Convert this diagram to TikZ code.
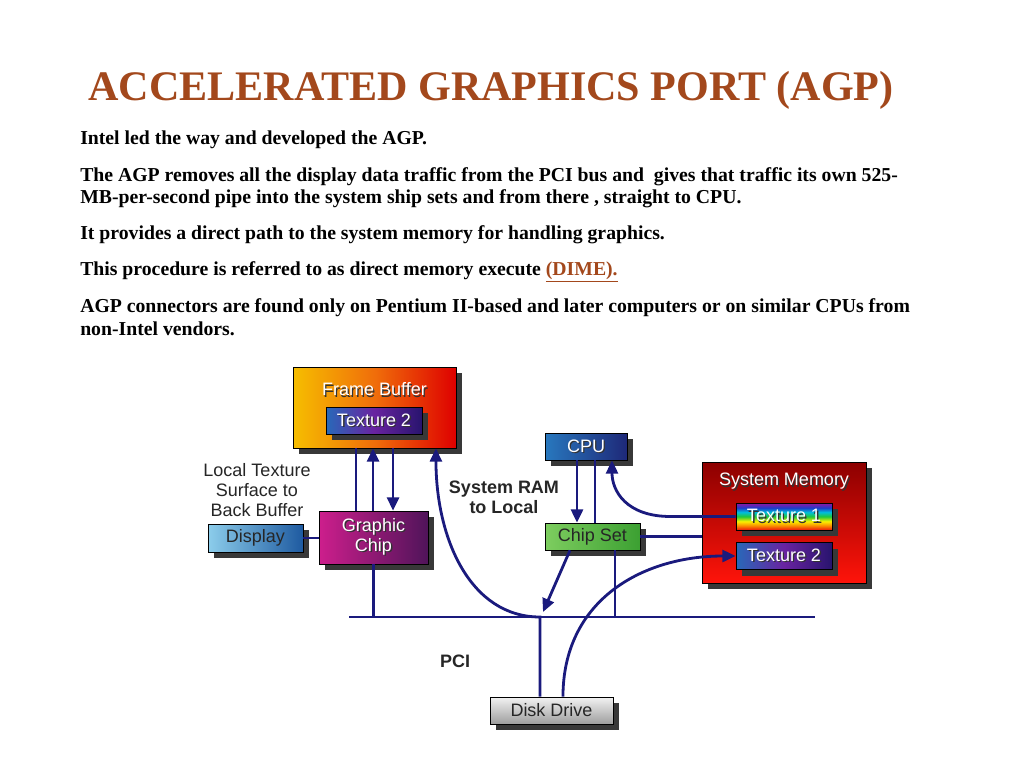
\documentclass[tikz,border=0pt]{standalone}
\usepackage{fontspec}
\usepackage{graphicx}
\setmainfont{Liberation Serif}
\setsansfont{Liberation Sans}
\usetikzlibrary{arrows.meta,shadows}

\definecolor{agpbrown}{RGB}{163,72,28}
\definecolor{wireblue}{RGB}{26,26,125}
\definecolor{fbyel}{RGB}{246,190,0}
\definecolor{fborange}{RGB}{240,110,10}
\definecolor{fbred}{RGB}{222,0,0}
\definecolor{texblue}{RGB}{40,105,185}
\definecolor{texpurple}{RGB}{105,35,160}
\definecolor{texnavy}{RGB}{40,20,110}
\definecolor{cpublue}{RGB}{40,120,190}
\definecolor{cpunavy}{RGB}{30,40,120}
\definecolor{csgreen}{RGB}{125,205,95}
\definecolor{csdark}{RGB}{60,160,50}
\definecolor{gcpink}{RGB}{205,30,140}
\definecolor{gcdark}{RGB}{80,20,90}
\definecolor{displight}{RGB}{140,205,235}
\definecolor{dispdark}{RGB}{30,90,160}
\definecolor{smdark}{RGB}{140,0,0}
\definecolor{smred}{RGB}{255,20,10}
\definecolor{rbred}{RGB}{235,20,10}
\definecolor{rborange}{RGB}{250,140,0}
\definecolor{rbyellow}{RGB}{250,240,0}
\definecolor{rbgreen}{RGB}{30,200,60}
\definecolor{rbcyan}{RGB}{0,190,220}
\definecolor{rbblue}{RGB}{30,60,200}
\definecolor{rbviolet}{RGB}{150,20,160}

\pgfdeclareverticalshading{rainbow}{100bp}{color(0bp)=(rbred); color(25bp)=(rbred);
  color(33bp)=(rborange); color(41bp)=(rbyellow); color(50bp)=(rbgreen);
  color(58bp)=(rbcyan); color(66bp)=(rbblue); color(75bp)=(rbviolet); color(100bp)=(rbviolet)}

\newcommand\shtxt[1]{\makebox[0pt][l]{\kern1pt\raisebox{-1pt}{\color{black!80}#1}}#1}

\begin{document}
\begin{tikzpicture}[x=0.75pt,y=-0.75pt,
    box/.style={draw=black,line width=0.5pt,inner sep=0pt,
      font=\sffamily\fontsize{13.5}{15}\selectfont,
      drop shadow={shadow xshift=4.5pt,shadow yshift=-4.5pt,fill=black!78,opacity=1}},
    wire/.style={draw=wireblue,line width=2.1pt},
    tip/.style={-{Triangle[length=10pt,width=9pt]}},
    lbl/.style={font=\sffamily\fontsize{13.5}{15}\selectfont,align=center,text=black!85}]
  \fill[white] (0,0) rectangle (1024,768);
  \useasboundingbox (0,0) rectangle (1024,768);

  % title and text
  \node[anchor=base west,inner sep=0pt,text=agpbrown,font=\bfseries] (title) at (88,100)
    {\resizebox{604pt}{!}{ACCELERATED GRAPHICS PORT (AGP)}};
  \foreach \yy/\txt [count=\i] in {144/{Intel led the way and developed the AGP.},
      181/{The AGP removes all the display data traffic from the PCI bus and~ gives that traffic its own 525-},
      203/{MB-per-second pipe into the system ship sets and from there , straight to CPU.},
      239/{It provides a direct path to the system memory for handling graphics.},
      275/{This procedure is referred to as direct memory execute \textcolor{agpbrown}{\underline{(DIME).}}},
      312/{AGP connectors are found only on Pentium II-based and later computers or on similar CPUs from},
      335/{non-Intel vendors.}}
    \node[anchor=base west,inner sep=0pt,font=\bfseries\fontsize{14.8}{18}\selectfont] (line\i) at (80,\yy) {\txt};

  % boxes
  \node[box,minimum width=122.25pt,minimum height=60.75pt,left color=fbyel,right color=fbred,middle color=fborange] (fb) at (374.5,407.5) {};
  \node[lbl,text=white] (fbtxt) at (374.5,390) {\shtxt{Frame Buffer}};
  \node[box,minimum width=72pt,minimum height=20.25pt,left color=texblue,right color=texnavy,middle color=texpurple,text=white] (fbtex) at (374,420.5) {\shtxt{Texture 2}};
  \node[box,minimum width=61.5pt,minimum height=20.25pt,left color=cpublue,right color=cpunavy,text=white] (cpu) at (586,446.5) {\shtxt{CPU}};
  \node[box,minimum width=123pt,minimum height=90.75pt,top color=smdark,bottom color=smred] (sm) at (784,522.5) {};
  \node[lbl,text=white] (smtxt) at (784,482) {\shtxt{System Memory}};
  \node[box,minimum width=72pt,minimum height=20.25pt,shading=rainbow,text=white] (tex1) at (784,516.5) {\shtxt{Texture 1}};
  \node[box,minimum width=72pt,minimum height=20.25pt,left color=texblue,right color=texnavy,middle color=texpurple,text=white] (tex2) at (784,556) {\shtxt{Texture 2}};
  \node[box,minimum width=71.25pt,minimum height=20.25pt,left color=csgreen,right color=csdark,text=black!85] (cs) at (592.5,536.5) {Chip Set};
  \node[box,minimum width=81.75pt,minimum height=39.75pt,left color=gcpink,right color=gcdark,text=white,align=center] (gc) at (373.5,537.5) {\shtxt{Graphic}\\\shtxt{Chip}};
  \node[box,minimum width=71.25pt,minimum height=21pt,left color=displight,right color=dispdark,text=black!85] (disp) at (255.5,538) {Display};
  \node[box,minimum width=92.25pt,minimum height=20.25pt,top color=white!95!black,bottom color=black!38,text=black!85] (disk) at (551.5,710.5) {Disk Drive};

  % labels
  \node[lbl] (loc) at (257,490) {Local Texture\\Surface to\\Back Buffer};
  \node[lbl,font=\sffamily\bfseries\fontsize{13.5}{15}\selectfont] (ram) at (504,497) {System RAM\\to Local};
  \node[lbl,font=\sffamily\bfseries\fontsize{13.5}{15}\selectfont] (pci) at (455,661) {PCI};

  % bus
  \coordinate (bl) at (349,617);
  \coordinate (br) at (815,617);
  \coordinate (pa) at (543,612);
  \draw[wire] (bl) -- (br);

  % connectors
  \draw[wire] ([xshift=-13.9pt]fb.south) -- ([xshift=-13.9pt]fb.south |- gc.north);
  \draw[wire,tip] ([xshift=-1.1pt]fb.south |- gc.north) -- ([xshift=-1.1pt]fb.south);
  \draw[wire,tip] ([xshift=13.9pt]fb.south) -- ([xshift=13.9pt]fb.south |- gc.north);
  \draw[wire] (gc.south) -- (gc.south |- bl);
  \draw[wire] (disp.east) -- (disp.east -| gc.west);
  \draw[wire,tip] ([xshift=-8.6pt]disk.north) -- ([xshift=-8.6pt]disk.north |- bl)
    .. controls +(-70,0) and +(0,90) .. ([xshift=46.1pt]fb.south);
  \draw[wire,tip] ([xshift=-16.9pt]cs.south) -- (pa);
  \draw[wire] ([xshift=16.9pt]cs.south) -- ([xshift=16.9pt]cs.south |- bl);
  \draw[wire,tip] ([xshift=-6.75pt]cpu.south) -- ([xshift=-6.75pt]cpu.south |- cs.north);
  \draw[wire] ([xshift=6.75pt]cpu.south) -- ([xshift=6.75pt]cpu.south |- cs.north);
  \draw[wire,tip] (tex1.west) -- ++(-65,0) .. controls +(-45,0) and +(0,30) .. ([xshift=19.5pt]cpu.south);
  \draw[wire] (cs.east) -- (cs.east -| sm.west);
  \draw[wire,tip] ([xshift=8.6pt]disk.north) .. controls +(0,-96) and +(-94,0) .. (tex2.west);
\end{tikzpicture}
\end{document}
